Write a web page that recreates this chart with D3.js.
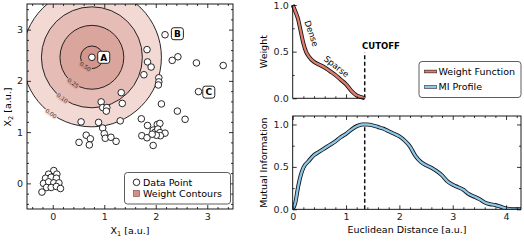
<!DOCTYPE html>
<html>
<head>
<meta charset="utf-8">
<script src="https://cdn.jsdelivr.net/npm/d3@7"></script>
<style>
  body { margin: 0; background: #fff; }
  svg { display: block; font-family: "DejaVu Sans", sans-serif; }
  .tick text { font-size: 9.5px; fill: #222; }
</style>
</head>
<body>
<div id="canva"></div>
<script>
// scatter data (left panel)
const pointX = [0.76, 2.18, 1.83, 1.84, 1.91, 1.77, 2.06, 2.06, 2.05, 2.32, 2.43, 2.79, 3.31, 2.83,
    2.11, 2.42, 2.57, 1.33, 1.35, 0.94, 0.97, 1.05, 1.04, 1.31, 0.55, 0.89, 0.97, 1.0, 1.02, 1.13,
    1.23, 0.65, 0.73, 0.71, 0.51, 1.72, 1.84, 1.73, 1.83, 1.95, 2.03, 2.08, 1.99, 2.04, 2.08, 2.18,
    2.09, 2.01, 1.93, 1.95,
    0.02, -0.08, 0.08, -0.14, -0.03, 0.07, -0.18, -0.08, 0.02, 0.12, -0.12, -0.03, 0.07, 0.15, -0.21];
const pointY = [2.46, 2.90, 2.61, 2.37, 2.27, 2.12, 2.06, 1.98, 1.92, 2.40, 2.47, 2.35, 2.30, 1.79,
    1.55, 1.41, 1.25, 1.77, 1.56, 1.59, 1.48, 1.48, 1.41, 1.22, 1.20, 1.19, 1.08, 0.97, 0.88, 0.90,
    0.82, 0.94, 0.87, 0.75, 0.80, 1.26, 1.13, 0.93, 0.89, 1.04, 1.15, 1.17, 1.00, 1.06, 0.99, 0.98,
    0.93, 0.94, 0.96, 0.74,
    0.25, 0.18, 0.18, 0.10, 0.12, 0.10, 0.00, 0.03, 0.01, 0.01, -0.08, -0.08, -0.06, -0.10, -0.17];

const tagNames = ["A", "B", "C"];
const tagX = [0.99, 2.42, 3.03];
const tagY = [2.46, 2.92, 1.78];

// weight contours around point A
const contourCenter = [0.76, 2.46];
const contourLevels = [0.00, 0.10, 0.25, 0.50];
const contourRadii = [1.35, 0.98, 0.62, 0.22];
const contourFills = ["#f2d9d4", "#e6bdb6", "#daa59c", "#d2968d"];

// weight function (top right)
const weightDist = [0, 0.05, 0.1, 0.15, 0.2, 0.25, 0.3, 0.4, 0.5, 0.6, 0.7, 0.8, 0.9, 1.0, 1.1, 1.2, 1.3, 1.35];
const weightVals = [1.0, 0.93, 0.85, 0.72, 0.59, 0.50, 0.45, 0.39, 0.36, 0.33, 0.29, 0.25, 0.20, 0.15, 0.08, 0.03, 0.01, 0.0];

// mutual information profile (bottom right)
const miDist = [0, 0.05, 0.1, 0.15, 0.2, 0.3, 0.4, 0.5, 0.6, 0.7, 0.8, 0.9, 1.0, 1.1, 1.2, 1.3, 1.4, 1.5,
    1.6, 1.7, 1.8, 1.9, 2.0, 2.1, 2.2, 2.3, 2.4, 2.5, 2.6, 2.7, 2.8, 2.9, 3.0, 3.1, 3.2, 3.3, 3.4, 3.5,
    3.6, 3.7, 3.8, 3.9, 4.0, 4.1, 4.2, 4.28];
const miVals = [0, 0.08, 0.26, 0.40, 0.49, 0.57, 0.64, 0.68, 0.72, 0.76, 0.80, 0.85, 0.89, 0.94, 0.98,
    1.0, 1.0, 0.99, 0.97, 0.95, 0.92, 0.89, 0.86, 0.81, 0.74, 0.63, 0.56, 0.52, 0.49, 0.45, 0.40, 0.33,
    0.29, 0.26, 0.23, 0.18, 0.15, 0.12, 0.08, 0.06, 0.05, 0.03, 0.01, 0.0, 0.0, 0];

const cutoff = 1.35;

const width = 524, height = 241;
const svg = d3.select("#canva").append("svg")
    .attr("width", width)
    .attr("height", height);

// draws inward ticks, major + minor
function ticks(g, axisFn, scale, major, minor, labels, fmt) {
    g.call(axisFn(scale).tickValues(minor).tickSize(-2).tickSizeOuter(0).tickFormat(""));
    const m = g.append("g");
    m.call(axisFn(scale).tickValues(major).tickSize(-4).tickSizeOuter(0).tickPadding(4)
        .tickFormat(labels ? fmt : ""));
    g.selectAll(".domain").remove();
    g.selectAll("line").attr("stroke", "#000").attr("stroke-width", 0.8);
    m.selectAll("text").attr("font-family", "DejaVu Sans");
}

// ---------- left panel ----------
const x1 = d3.scaleLinear().domain([-0.5, 3.5]).range([27, 233]);
const y1 = d3.scaleLinear().domain([-0.5, 3.5]).range([209, 4]);

svg.append("clipPath").attr("id", "clipL")
    .append("rect").attr("x", 27).attr("y", 4).attr("width", 206).attr("height", 205);

const cont = svg.append("g").attr("clip-path", "url(#clipL)");
const cx = x1(contourCenter[0]), cy = y1(contourCenter[1]);
const rpx = r => x1(r) - x1(0);

contourRadii.forEach((r, i) => {
    cont.append("circle")
        .attr("cx", cx).attr("cy", cy).attr("r", rpx(r))
        .attr("fill", contourFills[i])
        .attr("stroke", "#111")
        .attr("stroke-width", 0.9);
});

contourRadii.forEach((r, i) => {
    const a = 126 * Math.PI / 180;
    const lx = cx + Math.cos(a) * rpx(r);
    const ly = cy + Math.sin(a) * rpx(r);
    cont.append("text")
        .attr("transform", `translate(${lx},${ly}) rotate(36)`)
        .attr("text-anchor", "middle")
        .attr("dy", "0.35em")
        .attr("font-size", "5.5px")
        .attr("fill", "#333")
        .attr("stroke", contourFills[i])
        .attr("stroke-width", 2.5)
        .attr("paint-order", "stroke")
        .text(contourLevels[i].toFixed(2));
});

svg.append("g")
    .selectAll("circle")
    .data(pointX.map((d, i) => [d, pointY[i]]))
    .join("circle")
        .attr("cx", d => x1(d[0]))
        .attr("cy", d => y1(d[1]))
        .attr("r", 3.3)
        .attr("fill", "#fff")
        .attr("stroke", "#111")
        .attr("stroke-width", 0.9);

tagNames.forEach((t, i) => {
    const g = svg.append("g").attr("transform", `translate(${x1(tagX[i])},${y1(tagY[i])})`);
    g.append("rect").attr("x", -6).attr("y", -6).attr("width", 12).attr("height", 12)
        .attr("rx", 2.5).attr("fill", "#fff").attr("stroke", "#222").attr("stroke-width", 1);
    g.append("text").attr("text-anchor", "middle").attr("dy", "0.36em")
        .attr("font-size", "9px").attr("font-weight", "bold").text(t);
});

const majL = [0, 1, 2, 3];
const minL = d3.range(-0.4, 3.45, 0.2).filter(v => Math.abs(v - Math.round(v)) > 0.01);
ticks(svg.append("g").attr("transform", "translate(0,209)"), d3.axisBottom, x1, majL, minL, true, d3.format("d"));
ticks(svg.append("g").attr("transform", "translate(0,4)"), d3.axisTop, x1, majL, minL, false);
ticks(svg.append("g").attr("transform", "translate(27,0)"), d3.axisLeft, y1, majL, minL, true, d3.format("d"));
ticks(svg.append("g").attr("transform", "translate(233,0)"), d3.axisRight, y1, majL, minL, false);

svg.append("rect").attr("x", 27).attr("y", 4).attr("width", 206).attr("height", 205)
    .attr("fill", "none").attr("stroke", "#000").attr("stroke-width", 0.9);

// left legend
const lg = svg.append("g").attr("font-size", "9.5px");
lg.append("rect").attr("x", 124.5).attr("y", 172.5).attr("width", 106).attr("height", 31.5)
    .attr("rx", 3).attr("fill", "#fff").attr("stroke", "#333").attr("stroke-width", 0.8);
lg.append("circle").attr("cx", 136.5).attr("cy", 182.3).attr("r", 3.3)
    .attr("fill", "#fff").attr("stroke", "#111").attr("stroke-width", 0.9);
lg.append("text").attr("x", 143).attr("y", 185.8).text("Data Point");
lg.append("rect").attr("x", 133.3).attr("y", 190.3).attr("width", 6.4).attr("height", 6.4)
    .attr("fill", "#d68f85").attr("stroke", "#6b3b35").attr("stroke-width", 0.5);
lg.append("text").attr("x", 143).attr("y", 197).text("Weight Contours");

// axis labels left
const xl = svg.append("text").attr("x", 130).attr("y", 234).attr("text-anchor", "middle")
    .attr("font-size", "9.5px");
xl.append("tspan").text("X");
xl.append("tspan").attr("font-size", "6.5px").attr("dy", 2).text("1");
xl.append("tspan").attr("dy", -2).text(" [a.u.]");

const yl = svg.append("text").attr("transform", "translate(11,107) rotate(-90)")
    .attr("text-anchor", "middle").attr("font-size", "9.5px");
yl.append("tspan").text("X");
yl.append("tspan").attr("font-size", "6.5px").attr("dy", 2).text("2");
yl.append("tspan").attr("dy", -2).text(" [a.u.]");

// ---------- right panels ----------
const x2 = d3.scaleLinear().domain([0, 4.28]).range([292.7, 521]);
const yW = d3.scaleLinear().domain([0, 1]).range([98.3, 5]);
const yM = d3.scaleLinear().domain([0, 1.1]).range([209.3, 116]);

function outlined(g, xs, ys, color) {
    const line = d3.line()
        .x((d, i) => x2(xs[i]))
        .y(d => d)
        .curve(d3.curveMonotoneX);
    g.append("path").attr("d", line(ys)).attr("fill", "none")
        .attr("stroke", "#111").attr("stroke-width", 4).attr("stroke-linejoin", "round");
    g.append("path").attr("d", line(ys)).attr("fill", "none")
        .attr("stroke", color).attr("stroke-width", 2.3).attr("stroke-linejoin", "round");
}

// top: weight function
const wg = svg.append("g");
wg.append("line").attr("x1", x2(cutoff)).attr("x2", x2(cutoff))
    .attr("y1", yW(0)).attr("y2", yW(0.49))
    .attr("stroke", "#111").attr("stroke-width", 1.5).attr("stroke-dasharray", "4,2.5");
outlined(wg, weightDist, weightVals.map(v => yW(v)), "#e07d6c");

ticks(svg.append("g").attr("transform", `translate(0,${yW(0)})`), d3.axisBottom, x2,
    [1], [0.2, 0.4, 0.6, 0.8, 1.2], false);
ticks(svg.append("g").attr("transform", `translate(${x2(0)},0)`), d3.axisLeft, yW,
    [0, 0.5, 1], [0.25, 0.75], true, d3.format(".1f"));
svg.append("path")
    .attr("d", `M${x2(0)},${yW(1)}V${yW(0)}H${x2(cutoff)}`)
    .attr("fill", "none").attr("stroke", "#000").attr("stroke-width", 0.9);

svg.append("text").attr("x", 362).attr("y", 48.5)
    .attr("font-size", "8.5px").attr("font-weight", "bold").text("CUTOFF");
svg.append("text").attr("transform", "translate(311.5,33.5) rotate(71)")
    .attr("text-anchor", "middle").attr("dy", "0.35em").attr("font-size", "8.5px").text("Dense");
svg.append("text").attr("transform", "translate(336.5,66.5) rotate(38)")
    .attr("text-anchor", "middle").attr("dy", "0.35em").attr("font-size", "8.5px").text("Sparse");
svg.append("text").attr("transform", `translate(267,${yW(0.5)}) rotate(-90)`)
    .attr("text-anchor", "middle").attr("font-size", "9.5px").text("Weight");

// right legend
const rl = svg.append("g").attr("font-size", "9.5px");
rl.append("rect").attr("x", 419).attr("y", 61.5).attr("width", 102).attr("height", 36)
    .attr("rx", 3).attr("fill", "#fff").attr("stroke", "#333").attr("stroke-width", 0.8);
[["Weight Function", "#e07d6c", 71.5], ["MI Profile", "#8cc6e8", 87]].forEach(([t, c, yy]) => {
    rl.append("line").attr("x1", 424).attr("x2", 437).attr("y1", yy).attr("y2", yy)
        .attr("stroke", "#333").attr("stroke-width", 3.4);
    rl.append("line").attr("x1", 424.5).attr("x2", 436.5).attr("y1", yy).attr("y2", yy)
        .attr("stroke", c).attr("stroke-width", 2);
    rl.append("text").attr("x", 438.5).attr("y", yy + 3.4).text(t);
});

// bottom: MI profile
const mg = svg.append("g");
svg.append("clipPath").attr("id", "clipM")
    .append("rect").attr("x", 292.7).attr("y", 116).attr("width", 228.3).attr("height", 93.3);
mg.attr("clip-path", "url(#clipM)");
mg.append("line").attr("x1", x2(cutoff)).attr("x2", x2(cutoff))
    .attr("y1", yM(0)).attr("y2", yM(1.0))
    .attr("stroke", "#111").attr("stroke-width", 1.5).attr("stroke-dasharray", "4,2.5");
outlined(mg, miDist, miVals.map(v => yM(v)), "#8cc6e8");

const majM = [0, 1, 2, 3, 4];
const minM = d3.range(0.2, 4.25, 0.2).filter(v => Math.abs(v - Math.round(v)) > 0.01);
ticks(svg.append("g").attr("transform", "translate(0,209.3)"), d3.axisBottom, x2, majM, minM, true, d3.format("d"));
ticks(svg.append("g").attr("transform", "translate(0,116)"), d3.axisTop, x2, majM, minM, false);
ticks(svg.append("g").attr("transform", "translate(292.7,0)"), d3.axisLeft, yM, [0, 0.5, 1], [0.25, 0.75], true, d3.format(".1f"));
ticks(svg.append("g").attr("transform", "translate(521,0)"), d3.axisRight, yM, [0, 0.5, 1], [0.25, 0.75], false);
svg.append("rect").attr("x", 292.7).attr("y", 116).attr("width", 228.3).attr("height", 93.3)
    .attr("fill", "none").attr("stroke", "#000").attr("stroke-width", 0.9);

svg.append("text").attr("transform", `translate(267,${yM(0.55)}) rotate(-90)`)
    .attr("text-anchor", "middle").attr("font-size", "9.5px").text("Mutual Information");
svg.append("text").attr("x", 407).attr("y", 233).attr("text-anchor", "middle")
    .attr("font-size", "9.5px").text("Euclidean Distance [a.u.]");
</script>
</body>
</html>
